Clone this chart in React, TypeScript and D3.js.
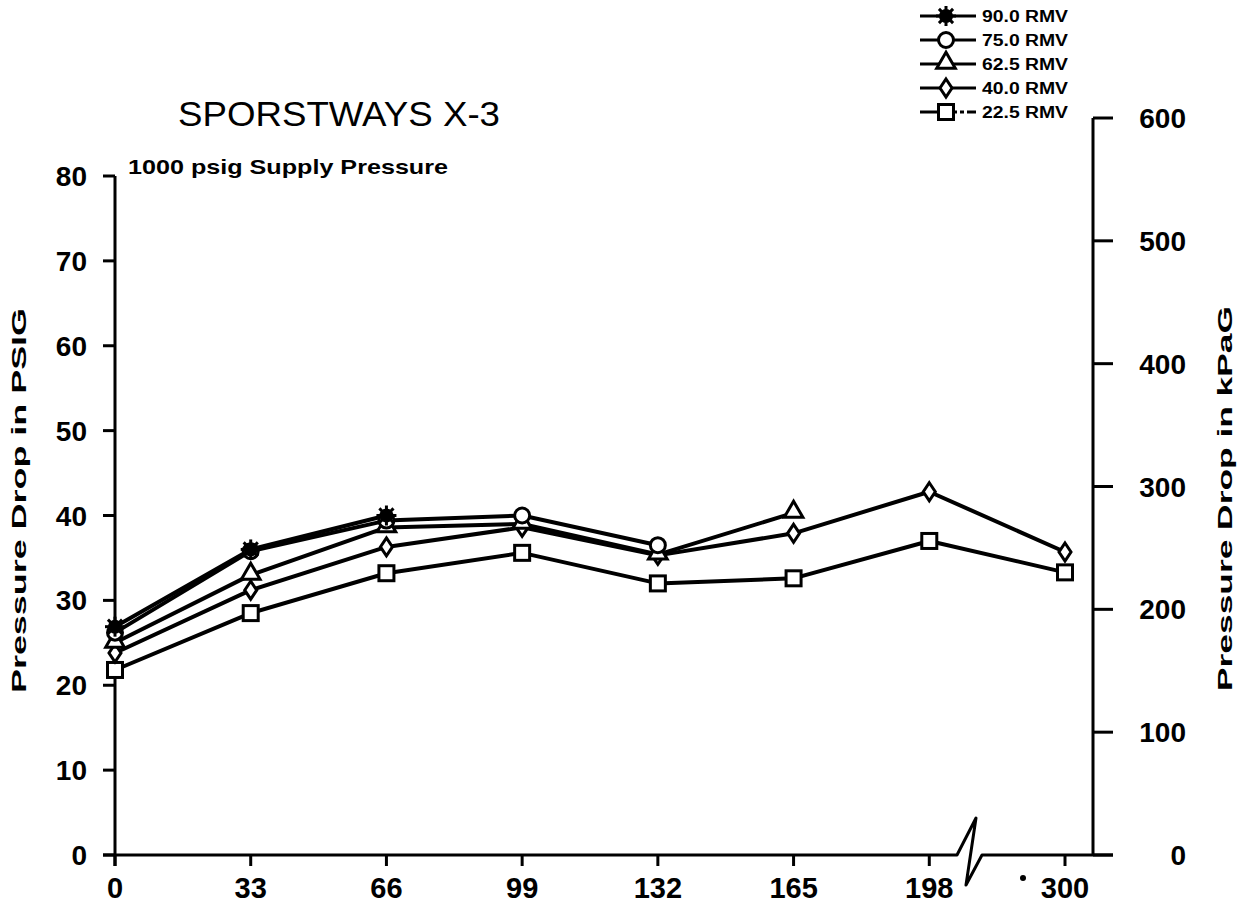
import React from "react";
import * as d3 from "d3";

const categories = ["0", "33", "66", "99", "132", "165", "198", "300"];
const yTicksLeft = [0, 10, 20, 30, 40, 50, 60, 70, 80];
const yTicksRight = [0, 100, 200, 300, 400, 500, 600];

const rmv90 = [26.9, 36.0, 40.0];
const rmv75 = [26.2, 35.8, 39.4, 40.0, 36.5];
const rmv625 = [25.0, 33.0, 38.6, 39.0, 35.4, 40.3];
const rmv40 = [23.8, 31.2, 36.3, 38.6, 35.3, 37.9, 42.8, 35.7];
const rmv225 = [21.8, 28.5, 33.2, 35.6, 32.0, 32.6, 37.0, 33.3];

const seriesNames = ["90.0 RMV", "75.0 RMV", "62.5 RMV", "40.0 RMV", "22.5 RMV"];
const seriesValues = [rmv90, rmv75, rmv625, rmv40, rmv225];
const seriesMarkers = ["star", "circle", "triangle", "diamond", "square"];

const FONT = "'Liberation Sans', Arial, sans-serif";

function Marker({ type, x, y }: { type: string; x: number; y: number }) {
  const sw = 3;
  if (type === "star") {
    const spokes = d3.range(8).map((i) => {
      const a = (i * Math.PI) / 4;
      return (
        <line key={i} x1={x} y1={y} x2={x + 10 * Math.cos(a)} y2={y + 10 * Math.sin(a)} stroke="#000" strokeWidth={3} />
      );
    });
    return (
      <g>
        {spokes}
        <circle cx={x} cy={y} r={7} fill="#000" />
      </g>
    );
  }
  if (type === "circle") {
    return <circle cx={x} cy={y} r={7.5} fill="#fff" stroke="#000" strokeWidth={sw} />;
  }
  if (type === "square") {
    return <rect x={x - 7.5} y={y - 7.5} width={15} height={15} fill="#fff" stroke="#000" strokeWidth={sw} />;
  }
  if (type === "triangle") {
    const p = d3.symbol().type(d3.symbolTriangle).size(150)();
    return <path d={p || ""} transform={`translate(${x},${y - 1})`} fill="#fff" stroke="#000" strokeWidth={sw} />;
  }
  // diamond (tall)
  const p = `M0,-9L6,0L0,9L-6,0Z`;
  return <path d={p} transform={`translate(${x},${y})`} fill="#fff" stroke="#000" strokeWidth={sw} />;
}

export default function App() {
  const width = 1253;
  const height = 914;
  const x = d3.scalePoint<string>().domain(categories).range([115, 1065]).padding(0);
  const yL = d3.scaleLinear().domain([0, 80]).range([855, 176]);
  const yR = d3.scaleLinear().domain([0, 600]).range([855, 118]);
  const line = d3
    .line<number>()
    .x((_, i) => x(categories[i]) as number)
    .y((d) => yL(d));

  const y0 = yL(0);
  const breakX = 957;

  return (
    <svg
      width={width}
      height={height}
      style={{ position: "absolute", left: 0, top: 0, background: "#fff" }}
      fontFamily={FONT}
    >
      <rect width={width} height={height} fill="#fff" />

      {/* Title */}
      <text x={178} y={126} fontSize={35} textLength={322} lengthAdjust="spacingAndGlyphs" fill="#000">
        SPORSTWAYS X-3
      </text>
      <text x={128} y={174} fontSize={21} fontWeight="bold" textLength={320} lengthAdjust="spacingAndGlyphs" fill="#000">
        1000 psig Supply Pressure
      </text>

      {/* Left axis */}
      <line x1={115} y1={yL(80)} x2={115} y2={866} stroke="#000" strokeWidth={3} />
      {yTicksLeft.map((t) => (
        <g key={t}>
          <line x1={103} x2={115} y1={yL(t)} y2={yL(t)} stroke="#000" strokeWidth={3} />
          <text x={87} y={yL(t)} dy="0.36em" textAnchor="end" fontSize={28} fontWeight="bold">
            {t}
          </text>
        </g>
      ))}
      <text
        transform={`translate(26,${(yL(0) + yL(80)) / 2 - 15}) rotate(-90)`}
        textAnchor="middle"
        fontSize={21}
        fontWeight="bold"
        textLength={385}
        lengthAdjust="spacingAndGlyphs"
      >
        Pressure Drop in PSIG
      </text>

      {/* Right axis */}
      <line x1={1093} y1={yR(600)} x2={1093} y2={y0} stroke="#000" strokeWidth={3} />
      {yTicksRight.map((t) => (
        <g key={t}>
          <line x1={1093} x2={1113} y1={yR(t)} y2={yR(t)} stroke="#000" strokeWidth={3} />
          <text x={1186} y={yR(t)} dy="0.36em" textAnchor="end" fontSize={28} fontWeight="bold">
            {t}
          </text>
        </g>
      ))}
      <text
        transform={`translate(1232,${(yR(0) + yR(600)) / 2 + 12}) rotate(-90)`}
        textAnchor="middle"
        fontSize={21}
        fontWeight="bold"
        textLength={385}
        lengthAdjust="spacingAndGlyphs"
      >
        Pressure Drop in kPaG
      </text>

      {/* X axis with break */}
      <path
        d={`M103,${y0}L${breakX},${y0}L976,818L966,885L982,${y0}L1113,${y0}`}
        fill="none"
        stroke="#000"
        strokeWidth={3}
        strokeLinejoin="round"
      />
      {categories.map((c) => (
        <g key={c}>
          <line x1={x(c)} x2={x(c)} y1={y0} y2={866} stroke="#000" strokeWidth={3} />
          <text x={x(c)} y={888} dy="0.36em" textAnchor="middle" fontSize={29} fontWeight="bold">
            {c}
          </text>
        </g>
      ))}
      <circle cx={1023} cy={878} r={3} fill="#000" />

      {/* Lines */}
      {seriesValues.map((vals, si) => (
        <path key={si} d={line(vals) || ""} fill="none" stroke="#000" strokeWidth={4} strokeLinejoin="round" />
      ))}
      {/* Markers */}
      {seriesValues
        .map((vals, si) => ({ vals, si }))
        .reverse()
        .map(({ vals, si }) =>
          vals.map((v, i) => (
            <Marker key={`${si}-${i}`} type={seriesMarkers[si]} x={x(categories[i]) as number} y={yL(v)} />
          ))
        )}

      {/* Legend */}
      {seriesNames.map((name, i) => {
        const ly = 16 + i * 24;
        return (
          <g key={name}>
            <line
              x1={920}
              x2={976}
              y1={ly}
              y2={ly}
              stroke="#000"
              strokeWidth={3}
              strokeDasharray={i === 4 ? "30,3,4,3,4,3" : undefined}
            />
            <Marker type={seriesMarkers[i]} x={946} y={ly} />
            <text x={982} y={ly} dy="0.36em" fontSize={16} fontWeight="bold" textLength={86} lengthAdjust="spacingAndGlyphs">
              {name}
            </text>
          </g>
        );
      })}
    </svg>
  );
}
